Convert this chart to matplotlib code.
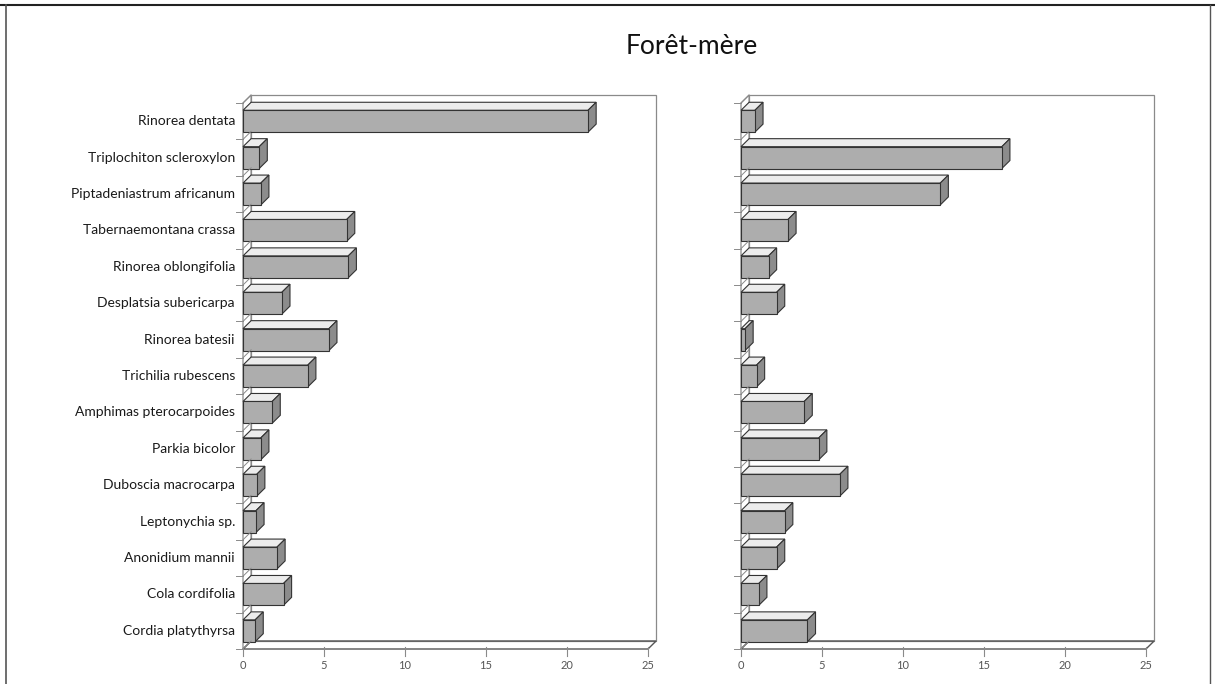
import matplotlib
matplotlib.use("Agg")
import matplotlib.pyplot as plt
from matplotlib.patches import Polygon, Rectangle
from matplotlib.lines import Line2D

plt.rcParams['font.family'] = ['Lato', 'DejaVu Sans']

species = [
    "Rinorea dentata", "Triplochiton scleroxylon", "Piptadeniastrum africanum",
    "Tabernaemontana crassa", "Rinorea oblongifolia", "Desplatsia subericarpa",
    "Rinorea batesii", "Trichilia rubescens", "Amphimas pterocarpoides",
    "Parkia bicolor", "Duboscia macrocarpa", "Leptonychia sp.",
    "Anonidium mannii", "Cola cordifolia", "Cordia platythyrsa",
]
left_vals = [21.3, 1.0, 1.1, 6.4, 6.5, 2.4, 5.3, 4.0, 1.8, 1.1, 0.85, 0.8, 2.1, 2.5, 0.75]
right_vals = [0.86, 16.1, 12.3, 2.9, 1.7, 2.2, 0.25, 0.96, 3.9, 4.8, 6.1, 2.7, 2.2, 1.1, 4.1]
xticks = [0, 5, 10, 15, 20, 25]
title = "Forêt-mère"

W, H = 1215, 684
PX_X = 16.2   # pixels per x unit
PX_Y = 36.4   # pixels per category row
DX, DY = 0.5, 0.22   # depth offset of the 3D box
BAR_H = 0.6
XMAX = 25
N = len(species)

FRONT = "#adadad"
TOP = "#ececec"
SIDE = "#8c8c8c"
EDGE = "#333333"
WALL = "#8a8a8a"


def panel(fig, x0_px, values, labels=None):
    left_px, right_px = x0_px - 43, x0_px + 427
    top_px, bot_px = 85, 680
    ax = fig.add_axes([left_px / W, 1 - bot_px / H,
                       (right_px - left_px) / W, (bot_px - top_px) / H])
    ax.set_xlim((left_px - x0_px) / PX_X, (right_px - x0_px) / PX_X)
    ax.set_ylim((bot_px - 103) / PX_Y, (top_px - 103) / PX_Y)
    ax.axis("off")

    # back wall, left wall and floor
    ax.add_patch(Rectangle((DX, -DY), XMAX, N, fill=False, ec=WALL, lw=0.9))
    ax.add_patch(Polygon([(0, 0), (DX, -DY), (DX, N - DY), (0, N)],
                         closed=True, fill=False, ec=WALL, lw=0.9))
    ax.add_patch(Polygon([(0, N), (XMAX, N), (XMAX + DX, N - DY), (DX, N - DY)],
                         closed=True, fill=False, ec="#555555", lw=1.0))
    for k in range(N + 1):
        ax.plot([0, DX], [k, k - DY], color=WALL, lw=0.7)
        ax.plot([-0.45, 0], [k, k], color=WALL, lw=0.7)
    for t in xticks:
        ax.plot([t, t], [N - 0.05, N + 0.18], color=WALL, lw=0.8)
        ax.text(t, N + 0.45, str(t), ha="center", va="center",
                fontsize=8, color="#555555")

    # 3D bars
    for i, v in enumerate(values):
        y0 = i + 0.5 - BAR_H / 2
        y1 = i + 0.5 + BAR_H / 2
        ax.add_patch(Polygon([(0, y0), (v, y0), (v + DX, y0 - DY), (DX, y0 - DY)],
                             closed=True, fc=TOP, ec=EDGE, lw=0.8))
        ax.add_patch(Polygon([(v, y0), (v + DX, y0 - DY), (v + DX, y1 - DY), (v, y1)],
                             closed=True, fc=SIDE, ec=EDGE, lw=0.8))
        ax.add_patch(Rectangle((0, y0), v, BAR_H, fc=FRONT, ec=EDGE, lw=0.8))
        if labels is not None:
            ax.text(-0.5, i + 0.5, labels[i], ha="right", va="center",
                    fontsize=10, color="#1a1a1a")
    return ax


fig = plt.figure(figsize=(W / 100, H / 100), dpi=100)
panel(fig, 243, left_vals, species)
panel(fig, 741, right_vals)

fig.text(692 / W, 1 - 46 / H, title, ha="center", va="center",
         fontsize=19, color="#111111")

# frame around the page
fig.add_artist(Line2D([0, 1], [1 - 5 / H, 1 - 5 / H], color="#222222", lw=1.5))
fig.add_artist(Line2D([6 / W, 6 / W], [0, 1 - 5 / H], color="#555555", lw=1.2))
fig.add_artist(Line2D([1210 / W, 1210 / W], [0, 1 - 5 / H], color="#555555", lw=1.0))

fig.savefig("out.png", dpi=100)
